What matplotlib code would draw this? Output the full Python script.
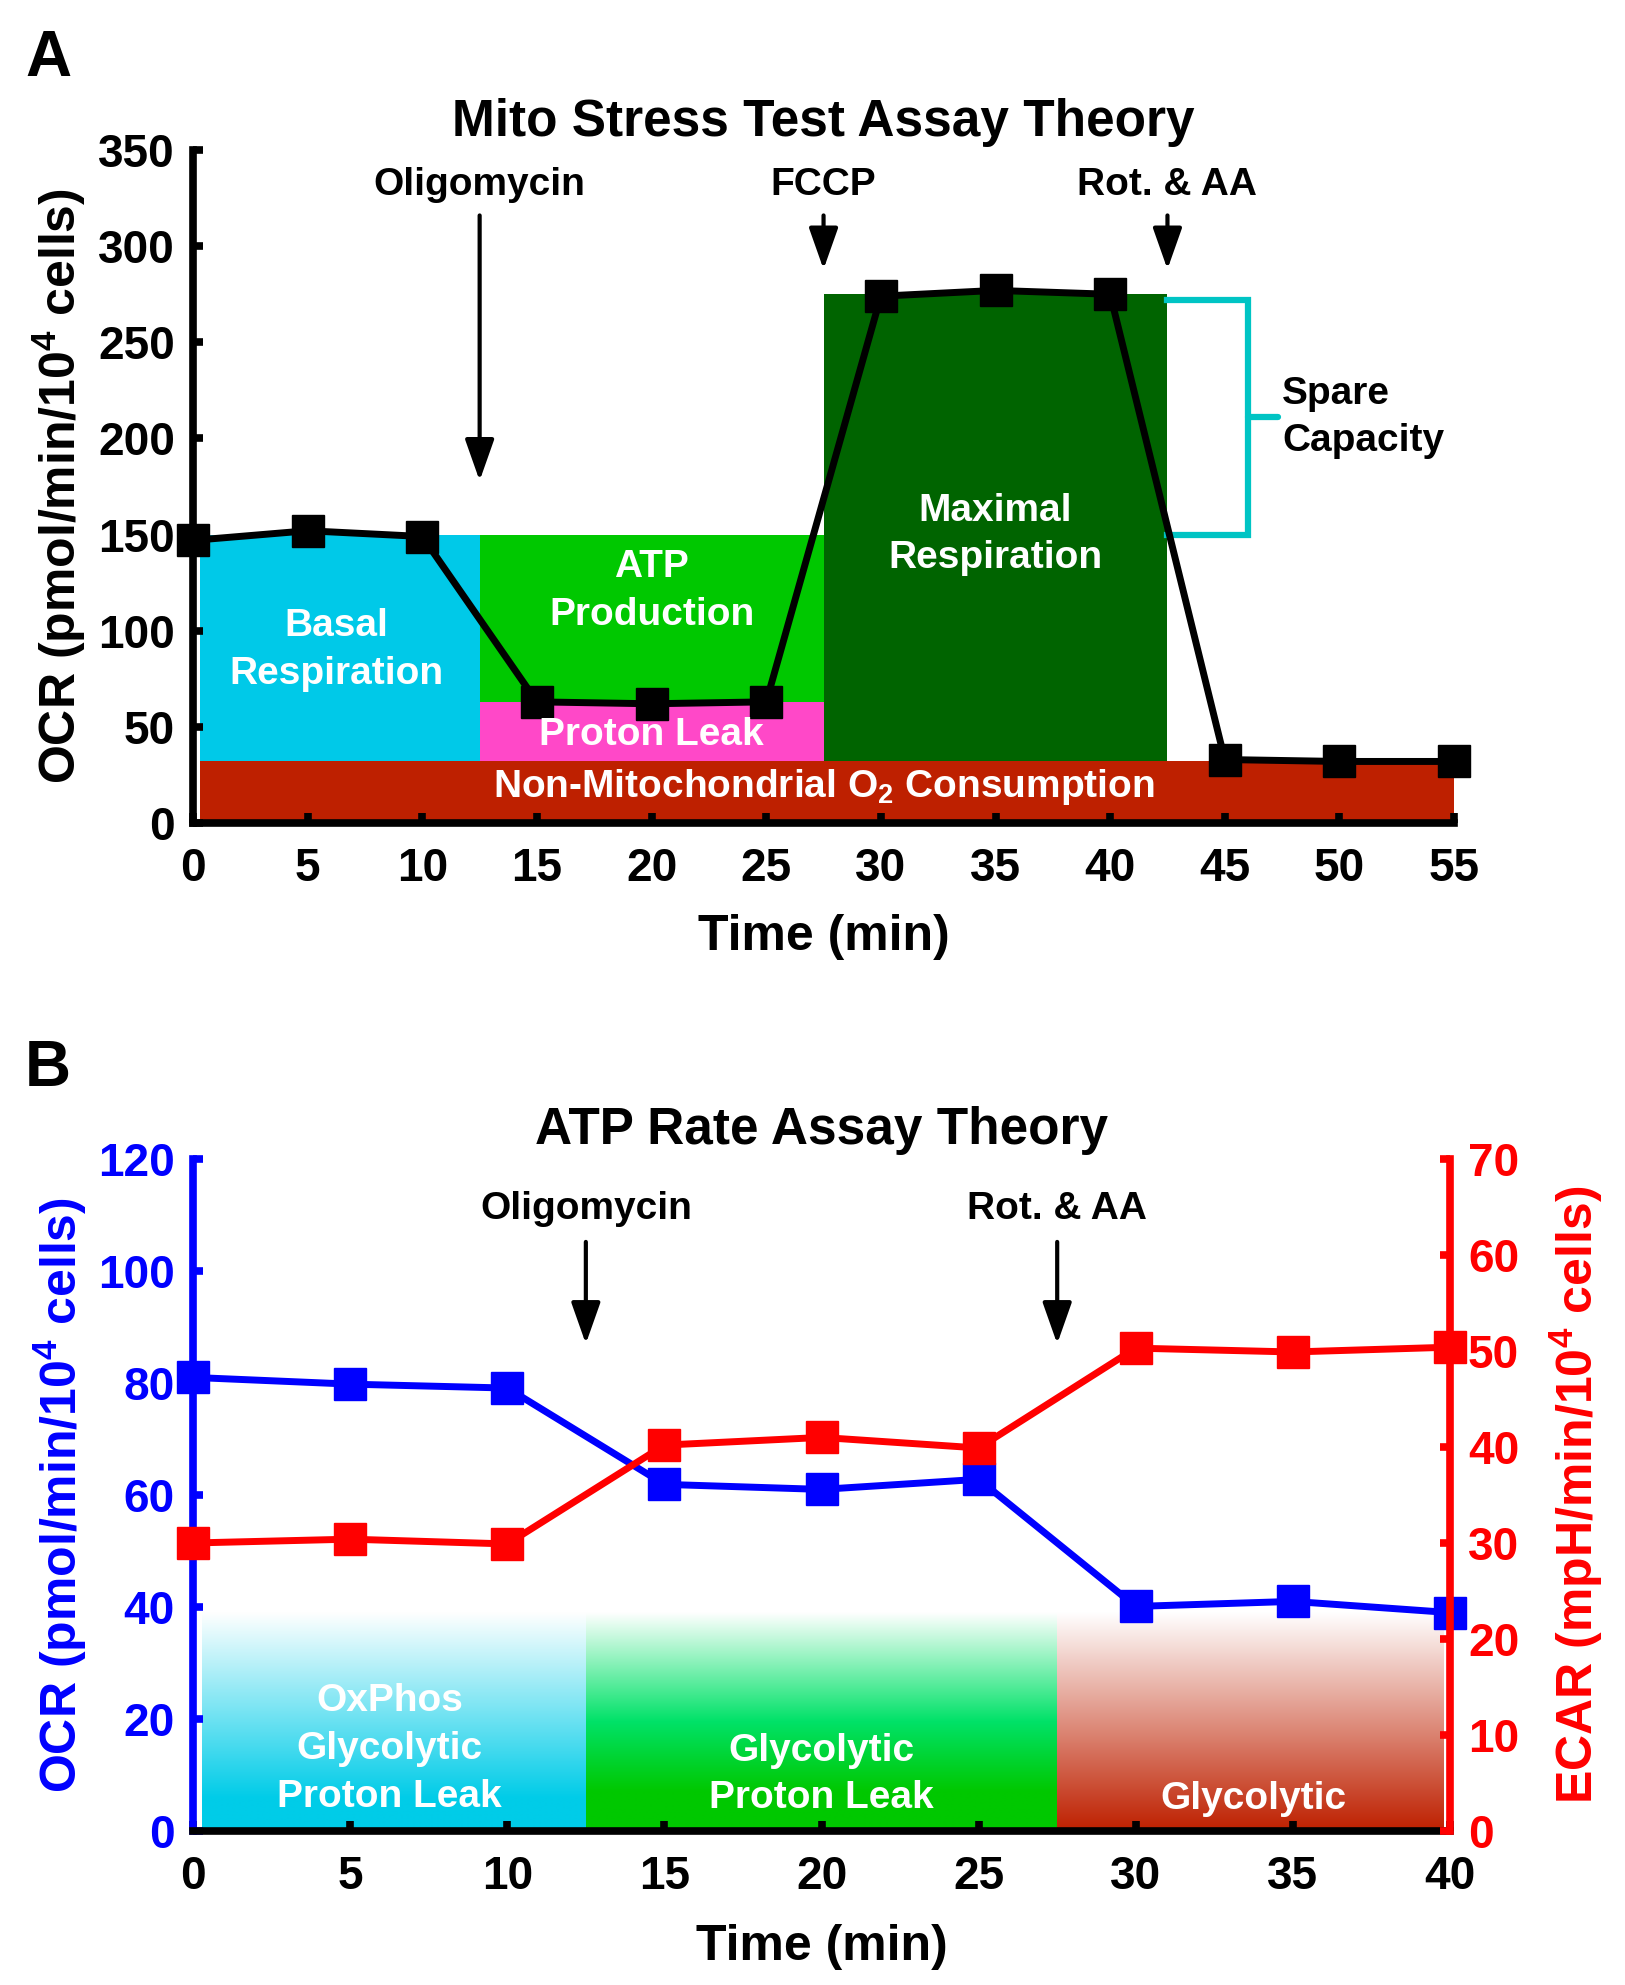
import numpy as np
import matplotlib
matplotlib.use("Agg")
import matplotlib.pyplot as plt
from matplotlib.patches import Rectangle

plt.rcParams['font.family'] = ['Liberation Sans', 'DejaVu Sans']
plt.rcParams['font.weight'] = 'bold'
plt.rcParams['mathtext.fontset'] = 'custom'
plt.rcParams['mathtext.rm'] = 'Liberation Sans:bold'
plt.rcParams['mathtext.bf'] = 'Liberation Sans:bold'
plt.rcParams['mathtext.it'] = 'Liberation Sans:bold'

# ---------------- Data: Panel A (Mito Stress Test) ----------------
time_a = [0, 5, 10, 15, 20, 25, 30, 35, 40, 45, 50, 55]
ocr_a = [147, 152, 149, 63, 62, 63, 274, 277, 275, 33, 32, 32]
a_xticks = [0, 5, 10, 15, 20, 25, 30, 35, 40, 45, 50, 55]
a_yticks = [0, 50, 100, 150, 200, 250, 300, 350]
inj_a_x = [12.5, 27.5, 42.5]
inj_a_labels = ["Oligomycin", "FCCP", "Rot. & AA"]
inj_a_arrow_end = [178, 288, 288]
nonmito_level = 32
basal_level = 150
leak_level = 63
max_level = 275
spare_top = 272
spare_bottom = 150

# ---------------- Data: Panel B (ATP Rate Assay) ----------------
time_b = [0, 5, 10, 15, 20, 25, 30, 35, 40]
ocr_b = [81, 79.8, 79.1, 61.9, 61.0, 62.8, 40.1, 41.0, 39.0]
ecar_b = [30.0, 30.4, 29.9, 40.2, 41.0, 39.9, 50.3, 49.9, 50.4]
b_xticks = [0, 5, 10, 15, 20, 25, 30, 35, 40]
b_yticks_left = [0, 20, 40, 60, 80, 100, 120]
b_yticks_right = [0, 10, 20, 30, 40, 50, 60, 70]
inj_b_x = [12.5, 27.5]
inj_b_labels = ["Oligomycin", "Rot. & AA"]
grad_top = 39

# ---------------- Figure ----------------
fig = plt.figure(figsize=(16.25, 19.85), dpi=100)

SPW = 5.5
TICK_FS = 33
LAB_FS = 36
TXT_FS = 28
LW = 5.0
MS = 23

def style_ticks(ax, axis, color, pad):
    ax.tick_params(axis=axis, direction='in', length=7, width=SPW, colors=color,
                   labelsize=TICK_FS, pad=pad)

ARROW = dict(arrowstyle='-|>,head_length=0.85,head_width=0.3',
             color='black', lw=3.0, mutation_scale=30, shrinkA=0, shrinkB=0)

# ---------- Panel A ----------
axA = fig.add_axes([0.1188, 0.5854, 0.776, 0.339])
axA.set_xlim(0, 55)
axA.set_ylim(0, 350)
for s in ['top', 'right']:
    axA.spines[s].set_visible(False)
for s in ['left', 'bottom']:
    axA.spines[s].set_linewidth(SPW)

c_nonmito = '#BE2000'
c_basal = '#00C9E8'
c_atp = '#00C800'
c_leak = '#FF48C8'
c_max = '#006400'
c_spare = '#00C4C4'

axA.add_patch(Rectangle((0.3, 0), 54.7, nonmito_level, color=c_nonmito, lw=0, zorder=1))
axA.add_patch(Rectangle((0.3, nonmito_level), 12.2, basal_level - nonmito_level, color=c_basal, lw=0, zorder=1))
axA.add_patch(Rectangle((12.5, leak_level), 15, basal_level - leak_level, color=c_atp, lw=0, zorder=1))
axA.add_patch(Rectangle((12.5, nonmito_level), 15, leak_level - nonmito_level, color=c_leak, lw=0, zorder=1))
axA.add_patch(Rectangle((27.5, nonmito_level), 15, max_level - nonmito_level, color=c_max, lw=0, zorder=1))

# spare capacity bracket
axA.plot([42.5, 46, 46, 42.5], [spare_top, spare_top, spare_bottom, spare_bottom],
         color=c_spare, lw=4.5, solid_joinstyle='miter', zorder=2, clip_on=False)
mid = (spare_top + spare_bottom) / 2
axA.plot([46, 47.3], [mid, mid], color=c_spare, lw=4.5, solid_capstyle='round', zorder=2, clip_on=False)
axA.text(47.5, mid, "Spare\nCapacity", ha='left', va='center', fontsize=TXT_FS,
         fontweight='bold', linespacing=1.4)

axA.plot(time_a, ocr_a, color='black', lw=LW, marker='s', markersize=MS, zorder=5, clip_on=False)

wk = dict(color='white', fontsize=TXT_FS, fontweight='bold', ha='center', va='center', linespacing=1.42, zorder=6)
axA.text(6.25, 90, "Basal\nRespiration", **wk)
axA.text(20, 120.5, "ATP\nProduction", **wk)
axA.text(20, 46, "Proton Leak", **wk)
axA.text(35, 150, "Maximal\nRespiration", **wk)
axA.text(27.5, 13.5, r"Non-Mitochondrial O$_2$ Consumption", color='white', fontsize=TXT_FS,
         ha='center', va='baseline', zorder=6)

for x, lab, yend in zip(inj_a_x, inj_a_labels, inj_a_arrow_end):
    axA.text(x, 332, lab, ha='center', va='center', fontsize=TXT_FS, fontweight='bold')
    axA.annotate('', xy=(x, yend), xytext=(x, 316), arrowprops=ARROW)

axA.set_xticks(a_xticks)
axA.set_yticks(a_yticks)
style_ticks(axA, 'x', 'black', 17)
style_ticks(axA, 'y', 'black', 13)
axA.set_xlabel("Time (min)", fontsize=LAB_FS, fontweight='bold')
axA.xaxis.set_label_coords(0.5, -0.135)
axA.set_ylabel(r"OCR (pmol/min/10$^{4}$ cells)", fontsize=LAB_FS, fontweight='bold')
axA.yaxis.set_label_coords(-0.083, 0.5)
axA.set_title("Mito Stress Test Assay Theory", fontsize=37, fontweight='bold', pad=10)
fig.text(0.0154, 0.9617, "A", fontsize=46, fontweight='bold', ha='left', va='baseline')

# ---------- Panel B ----------
axB = fig.add_axes([0.1188, 0.0776, 0.7735, 0.3385])
axB2 = axB.twinx()

blue = '#0000FF'
red = '#FF0000'


def gradient(ax, x0, x1, top, stops):
    fr = np.linspace(0, 1, 256)
    pos = [s[0] for s in stops]
    cols = np.array([s[1] for s in stops], dtype=float) / 255.0
    img = np.stack([np.interp(fr, pos, cols[:, k]) for k in range(3)], axis=-1)[:, None, :]
    ax.imshow(img, extent=[x0, x1, 0, top], origin='lower', aspect='auto',
              interpolation='bilinear', zorder=1)

gradient(axB, 0.3, 12.5, grad_top, [(0, (0, 204, 232)), (0.15, (0, 204, 232)), (1.0, (255, 255, 255))])
gradient(axB, 12.5, 27.5, grad_top, [(0, (0, 200, 0)), (0.18, (0, 200, 0)), (0.5, (0, 226, 104)), (1.0, (255, 255, 255))])
gradient(axB, 27.5, 39.8, grad_top, [(0, (190, 32, 0)), (1.0, (255, 255, 255))])
axB.set_xlim(0, 40)
axB.set_ylim(0, 120)
axB2.set_ylim(0, 70)

axB.text(6.25, 14.6, "OxPhos\nGlycolytic\nProton Leak", **wk)
axB.text(20, 10.1, "Glycolytic\nProton Leak", **wk)
axB.text(33.75, 5.7, "Glycolytic", **wk)

for x, lab in zip(inj_b_x, inj_b_labels):
    axB.text(x, 111, lab, ha='center', va='center', fontsize=TXT_FS, fontweight='bold')
    axB.annotate('', xy=(x, 87), xytext=(x, 105.2), arrowprops=ARROW)

axB.plot(time_b, ocr_b, color=blue, lw=LW, marker='s', markersize=MS, zorder=5, clip_on=False)
axB2.plot(time_b, ecar_b, color=red, lw=LW, marker='s', markersize=MS, zorder=5, clip_on=False)

for s in ['top', 'right']:
    axB.spines[s].set_visible(False)
for s in ['top', 'left', 'bottom']:
    axB2.spines[s].set_visible(False)
axB.spines['left'].set_linewidth(SPW)
axB.spines['left'].set_color(blue)
axB.spines['bottom'].set_linewidth(SPW)
axB.spines['bottom'].set_color('black')
axB2.spines['right'].set_linewidth(SPW)
axB2.spines['right'].set_color(red)

axB.set_xticks(b_xticks)
axB.set_yticks(b_yticks_left)
axB2.set_yticks(b_yticks_right)
style_ticks(axB, 'x', 'black', 17)
style_ticks(axB, 'y', blue, 13)
style_ticks(axB2, 'y', red, 13)

axB.set_xlabel("Time (min)", fontsize=LAB_FS, fontweight='bold')
axB.xaxis.set_label_coords(0.5, -0.138)
axB.set_ylabel(r"OCR (pmol/min/10$^{4}$ cells)", fontsize=LAB_FS, fontweight='bold', color=blue)
axB.yaxis.set_label_coords(-0.083, 0.5)
axB2.set_ylabel(r"ECAR (mpH/min/10$^{4}$ cells)", fontsize=LAB_FS, fontweight='bold', color=red)
axB2.yaxis.set_label_coords(1.078, 0.5)
axB.set_title("ATP Rate Assay Theory", fontsize=37, fontweight='bold', pad=11)
fig.text(0.0154, 0.4529, "B", fontsize=46, fontweight='bold', ha='left', va='baseline')

fig.savefig("out.png", dpi=100)
